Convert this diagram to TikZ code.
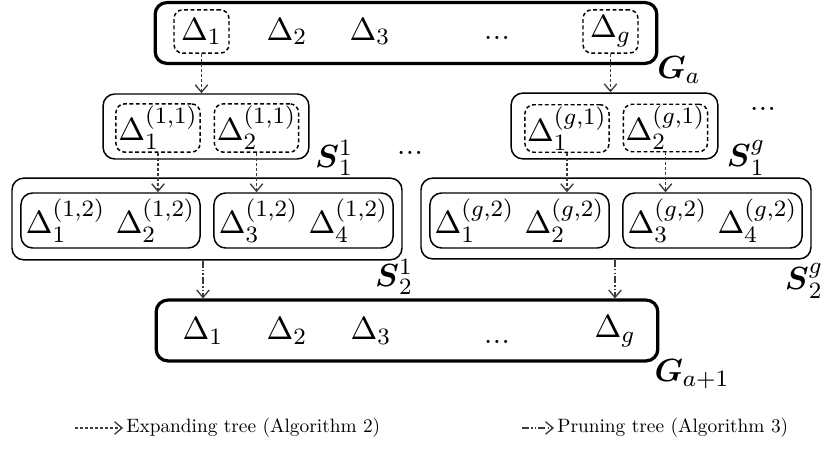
\documentclass[tikz,border=0pt]{standalone}
\usepackage{amsmath}
\usepackage{tikz}
\usetikzlibrary{arrows.meta,positioning}
\definecolor{linkgray}{RGB}{60,60,60}
\tikzset{
  grp/.style={draw=black,line width=1.1pt,rounded corners=4pt,minimum width=60.2mm,minimum height=7.3mm,inner sep=0pt},
  part/.style={draw=black,line width=0.5pt,rounded corners=4pt,inner sep=0pt},
  cand/.style={draw=black,line width=0.5pt,dash pattern=on 1.3pt off 0.9pt,rounded corners=3pt,inner sep=0pt},
  elem/.style={inner sep=0pt},
  lbl/.style={inner sep=0pt},
  expand/.style={-{Straight Barb[length=0.9mm,width=1.5mm]},draw=linkgray,line width=0.45pt,dash pattern=on 1pt off 0.7pt},
  prune/.style={-{Straight Barb[length=0.9mm,width=1.5mm]},draw=linkgray,line width=0.45pt,dash pattern=on 2.4pt off 0.8pt on 0.4pt off 0.8pt on 0.4pt off 0.8pt},
  legend/.style={inner sep=0pt,font=\fontsize{10}{12}\selectfont,scale=0.66,transform shape}
}

\begin{document}
\begin{tikzpicture}[x=0.12mm,y=0.12mm,font=\fontsize{11}{13}\selectfont]
\useasboundingbox (0,0) rectangle (823,-449);
% group G_a
\node[grp] (ga) at (406,-33) {};
\node[cand,minimum width=6.6mm,minimum height=5.2mm] (d1) at (201.5,-31.5) {$\Delta_1$};
\node[elem] (d2) at (287,-31.5) {$\Delta_2$};
\node[elem] (d3) at (370,-31.5) {$\Delta_3$};
\node[elem,anchor=base] (dd) at (497,-39.3) {...};
\node[cand,minimum width=6.6mm,minimum height=5.2mm] (dg) at (610.5,-31.5) {$\Delta_g$};
\node[lbl] (galbl) at (679,-70) {$\boldsymbol{G}_a$};
% first level subgroups
\node[part,minimum width=24.7mm,minimum height=7.8mm] (s11) at (206,-126.5) {};
\node[cand,minimum width=10.1mm,minimum height=5.8mm] (s11a) at (158,-128) {$\Delta_1^{(1,1)}$};
\node[cand,minimum width=10.1mm,minimum height=5.8mm] (s11b) at (256.5,-128) {$\Delta_2^{(1,1)}$};
\node[lbl] (s11lbl) at (334,-158) {$\boldsymbol{S}_1^1$};
\node[elem,anchor=base] (dmid) at (410,-155) {...};
\node[part,minimum width=24.8mm,minimum height=7.9mm] (s1g) at (614.5,-126) {};
\node[cand,minimum width=10.1mm,minimum height=5.7mm] (s1ga) at (567,-128.5) {$\Delta_1^{(g,1)}$};
\node[cand,minimum width=10.1mm,minimum height=5.7mm] (s1gb) at (665.5,-128) {$\Delta_2^{(g,1)}$};
\node[lbl] (s1glbl) at (746,-158) {$\boldsymbol{S}_1^g$};
\node[elem,anchor=base] (dright) at (763,-111) {...};
% second level subgroups
\node[part,minimum width=46.8mm,minimum height=9.8mm] (s21) at (207,-219) {};
\node[part,minimum width=21.5mm,minimum height=6.6mm] (s21a) at (110.5,-220.5) {$\Delta_1^{(1,2)}\ \Delta_2^{(1,2)}$};
\node[part,minimum width=21.5mm,minimum height=6.6mm] (s21b) at (303.5,-220.5) {$\Delta_3^{(1,2)}\ \Delta_4^{(1,2)}$};
\node[lbl] (s21lbl) at (394,-277) {$\boldsymbol{S}_2^1$};
\node[part,minimum width=46.8mm,minimum height=9.7mm] (s2g) at (616,-218.5) {};
\node[part,minimum width=21.5mm,minimum height=6.6mm] (s2ga) at (519.5,-220.5) {$\Delta_1^{(g,2)}\ \Delta_2^{(g,2)}$};
\node[part,minimum width=21.5mm,minimum height=6.6mm] (s2gb) at (712.5,-220.5) {$\Delta_3^{(g,2)}\ \Delta_4^{(g,2)}$};
\node[lbl] (s2glbl) at (804,-281) {$\boldsymbol{S}_2^g$};
% group G_{a+1}
\node[grp] (gb) at (407,-330.5) {};
\node[elem] (b1) at (203,-331) {$\Delta_1$};
\node[elem] (b2) at (287,-331) {$\Delta_2$};
\node[elem] (b3) at (371,-331) {$\Delta_3$};
\node[elem,anchor=base] (bd) at (497,-344) {...};
\node[elem] (bg) at (615,-331) {$\Delta_g$};
\node[lbl] (gblbl) at (692,-374) {$\boldsymbol{G}_{a+1}$};
% expanding
\draw[expand] (d1.south) -- (d1.south |- s11.north);
\draw[expand] (dg.south) -- (dg.south |- s1g.north);
\draw[expand] (s11a.south) -- (s11a.south |- s21a.north);
\draw[expand] (s11b.south) -- (s11b.south |- s21b.north);
\draw[expand] (s1ga.south) -- (s1ga.south |- s2ga.north);
\draw[expand] (s1gb.south) -- (s1gb.south |- s2gb.north);
% pruning
\draw[prune] (b1 |- s21.south) -- (b1 |- gb.north);
\draw[prune] (bg |- s2g.south) -- (bg |- gb.north);
% legend
\node[legend,anchor=west] (lgexp) at (126,-428) {Expanding tree (Algorithm 2)};
\coordinate (lgexps) at (75,-428);
\draw[expand,shorten >=1pt] (lgexps) -- (lgexp.west);
\node[legend,anchor=west] (lgpru) at (557,-428) {Pruning tree (Algorithm 3)};
\coordinate (lgprus) at (522,-428);
\draw[prune,shorten >=1pt] (lgprus) -- (lgpru.west);
\end{tikzpicture}
\end{document}
